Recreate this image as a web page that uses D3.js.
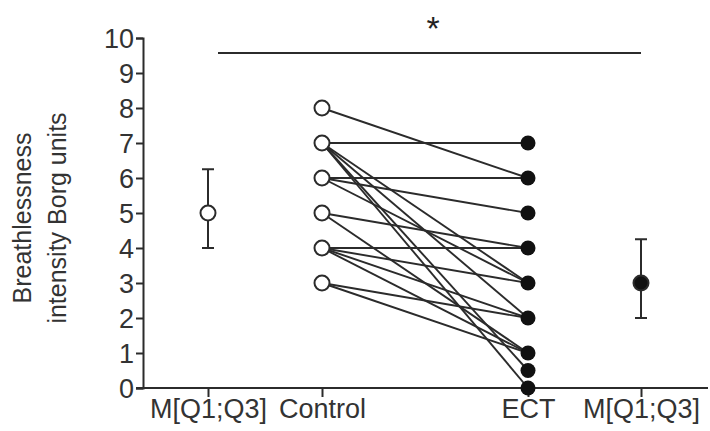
<!DOCTYPE html>
<html>
<head>
<meta charset="utf-8">
<script src="https://cdn.jsdelivr.net/npm/d3@7"></script>
<style>
  body { margin: 0; background: #fff; }
  svg { display: block; font-family: "Liberation Sans", Arial, sans-serif; }
</style>
</head>
<body>
<div id="chart"></div>
<script>
// categories on the x axis
const groups = ["M1", "Control", "ECT", "M2"];
const groupLabels = ["M[Q1;Q3]", "Control", "ECT", "M[Q1;Q3]"];

// paired scores, control -> ECT
const controlScores = [8, 7, 7, 7, 7, 7, 6, 6, 6, 5, 5, 4, 4, 4, 4, 3, 3];
const ectScores     = [6, 7, 3, 2, 0.5, 0, 6, 5, 3, 4, 1, 4, 3, 2, 1, 2, 1];

// median [Q1;Q3]
const summary = [
  { group: "M1", median: 5, q1: 4, q3: 6.25, filled: false },
  { group: "M2", median: 3, q1: 2, q3: 4.25, filled: true }
];

const yTicks = [0, 1, 2, 3, 4, 5, 6, 7, 8, 9, 10];
const yTitle = ["Breathlessness", "intensity Borg units"];
const sigLabel = "*";

const W = 710, H = 431;
const ink = "#2b2b2b";

const svg = d3.select("#chart").append("svg")
  .attr("width", W)
  .attr("height", H);

const y = d3.scaleLinear().domain([0, 10]).range([388, 38]);
const x = d3.scaleOrdinal().domain(groups).range([208, 322, 528, 641]);

// y axis
const yAxis = svg.append("g")
  .attr("transform", "translate(143,0)")
  .call(d3.axisLeft(y).tickValues(yTicks).tickSize(7).tickPadding(2));
yAxis.select(".domain").attr("stroke", ink).attr("stroke-width", 2);
yAxis.selectAll(".tick line").attr("stroke", ink).attr("stroke-width", 2);
yAxis.selectAll(".tick text")
  .attr("fill", "#333")
  .style("font-size", "27px")
  .attr("dy", "0.36em");

// x axis
const xAxis = svg.append("g")
  .attr("transform", "translate(0,388)")
  .call(d3.axisBottom(x).tickSize(9).tickPadding(2)
    .tickFormat(d => groupLabels[groups.indexOf(d)]));
xAxis.select(".domain").remove();
xAxis.selectAll(".tick line").attr("stroke", ink).attr("stroke-width", 2);
xAxis.selectAll(".tick text")
  .attr("fill", "#333")
  .style("font-size", "27px");
svg.append("line")
  .attr("x1", 136).attr("x2", 708)
  .attr("y1", 388).attr("y2", 388)
  .attr("stroke", ink).attr("stroke-width", 2);

// y title
const title = svg.append("text")
  .attr("transform", "translate(0,218) rotate(-90)")
  .attr("text-anchor", "middle")
  .attr("fill", "#333")
  .style("font-size", "25px");
title.selectAll("tspan").data(yTitle).enter().append("tspan")
  .attr("x", 0)
  .attr("y", (d, i) => 31 + i * 35)
  .text(d => d);

// paired lines
const pairs = controlScores.map((c, i) => ({ c, e: ectScores[i] }));
svg.append("g").selectAll("line").data(pairs).enter().append("line")
  .attr("x1", x("Control")).attr("y1", d => y(d.c))
  .attr("x2", x("ECT")).attr("y2", d => y(d.e))
  .attr("stroke", ink)
  .attr("stroke-width", 1.9);

// points
const ctrlPts = Array.from(new Set(controlScores));
const ectPts = Array.from(new Set(ectScores));
svg.append("g").selectAll("circle").data(ctrlPts).enter().append("circle")
  .attr("cx", x("Control")).attr("cy", d => y(d))
  .attr("r", 7.5)
  .attr("fill", "#fff").attr("stroke", ink).attr("stroke-width", 2);
svg.append("g").selectAll("circle").data(ectPts).enter().append("circle")
  .attr("cx", x("ECT")).attr("cy", d => y(d))
  .attr("r", 7.5)
  .attr("fill", "#111");

// median with IQR
const sg = svg.append("g").selectAll("g").data(summary).enter().append("g");
sg.append("line")
  .attr("x1", d => x(d.group)).attr("x2", d => x(d.group))
  .attr("y1", d => y(d.q1)).attr("y2", d => y(d.q3))
  .attr("stroke", ink).attr("stroke-width", 2);
sg.selectAll(".cap").data(d => [d.q1, d.q3].map(v => ({ g: d.group, v }))).enter()
  .append("line")
  .attr("x1", d => x(d.g) - 6).attr("x2", d => x(d.g) + 6)
  .attr("y1", d => y(d.v)).attr("y2", d => y(d.v))
  .attr("stroke", ink).attr("stroke-width", 2);
sg.append("circle")
  .attr("cx", d => x(d.group)).attr("cy", d => y(d.median))
  .attr("r", 7.5)
  .attr("fill", d => d.filled ? "#111" : "#fff")
  .attr("stroke", ink).attr("stroke-width", 2);

// significance bar
svg.append("line")
  .attr("x1", 218).attr("x2", 641)
  .attr("y1", y(9.57)).attr("y2", y(9.57))
  .attr("stroke", ink).attr("stroke-width", 2);
svg.append("text")
  .attr("x", 433).attr("y", 40)
  .attr("text-anchor", "middle")
  .attr("fill", "#222")
  .style("font-size", "34px")
  .text(sigLabel);
</script>
</body>
</html>
